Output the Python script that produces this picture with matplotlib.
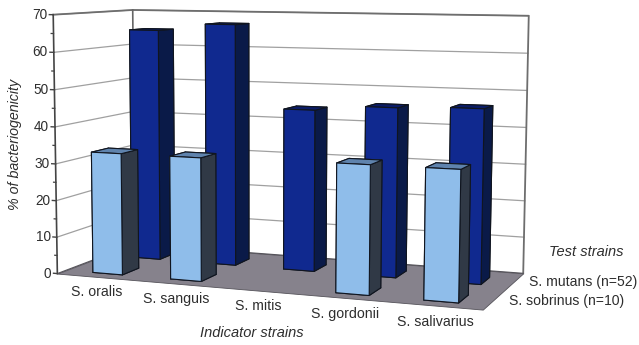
import numpy as np
import matplotlib
matplotlib.use('Agg')
import matplotlib.pyplot as plt
from mpl_toolkits.mplot3d import proj3d
from mpl_toolkits.mplot3d.art3d import Poly3DCollection

strains = ['S. oralis', 'S. sanguis', 'S. mitis', 'S. gordonii', 'S. salivarius']
mutans = [65, 67, 44.3, 45.8, 46.4]
sobrinus = [33, 33, 0, 33.5, 33.5]
yticks = [0, 10, 20, 30, 40, 50, 60, 70]
minor = [5, 15, 25, 35, 45, 55, 65]

plt.rcParams['font.family'] = 'Liberation Sans'
txt = '#2e2e2e'

W, H, S = 639, 345, 640
fig = plt.figure(figsize=(W/100, H/100), dpi=100)
ax = fig.add_axes([-37.41/W, ((H-S)/2+18.19)/H, S/W, S/H], projection='3d', computed_zorder=False)
ax.set_xlim(0, 5)
ax.set_ylim(0, 2)
ax.set_zlim(0, 70)
ax.view_init(6.8414, -69.2974, -0.1631)
ax.set_proj_type('persp', focal_length=0.4352)
ax.set_box_aspect((1, 0.3972, 0.5944), zoom=0.8157)
ax.set_axis_off()
ax.patch.set_alpha(0)

# floor
floor = Poly3DCollection([[(0,0,0),(5,0,0),(5,2,0),(0,2,0)]], facecolor='#86828c', edgecolor='#55535a', linewidth=0.6, zorder=1)
ax.add_collection3d(floor)

# walls
gc = '#a0a0a0'
for v in yticks[1:]:
    ax.plot([0,0,5], [0,2,2], [v,v,v], color=gc, lw=0.9, zorder=2)
ax.plot([0,0,5,5], [0,2,2,2], [70,70,70,0], color='#6e6e6e', lw=1.3, zorder=2)
ax.plot([0,0], [2,2], [0,70], color='#666666', lw=1.2, zorder=2)
ax.plot([0,0,5], [0,2,2], [0,0,0], color='#55535a', lw=0.8, zorder=2)
ax.plot([0,0], [0,0], [0,70], color='#444444', lw=1.2, zorder=5)

# ticks
for v in yticks:
    ax.plot([-0.05,0], [0,0], [v,v], color='#444444', lw=1.0, zorder=5)
for v in minor:
    ax.plot([-0.03,0], [0,0], [v,v], color='#444444', lw=0.9, zorder=5)

bw = 0.38
bd = 0.42
def bar(i, row, h, front, top, side, z):
    ax.bar3d(0.54+i*0.99-bw/2, row+0.21, 0, bw, bd, h,
             color=[front, top, front, front, side, side],
             edgecolor='#10151f', linewidth=0.8, shade=False, zorder=z)

for i, v in enumerate(mutans):
    bar(i, 1, v, '#10298f', '#0b1c66', '#0a1a48', 3+i*0.01)
for i, v in enumerate(sobrinus):
    if v > 0:
        bar(i, 0, v, '#8fbdea', '#5f83ad', '#303946', 4+i*0.01)

M = ax.get_proj()
for v in yticks:
    x2, y2, _ = proj3d.proj_transform(0, 0, v, M)
    ax.annotate(str(v), (x2, y2), xytext=(-6, 0), textcoords='offset pixels', ha='right',
                va='center', fontsize=9.8, color=txt, annotation_clip=False)

def t(px, py, s, **kw):
    fig.text(px/W, 1-py/H, s, ha='center', va='center', color=txt, **kw)

label_x = [97, 176, 258, 345, 435]
label_y = [292, 299, 306, 314, 322]
for s, px, py in zip(strains, label_x, label_y):
    t(px, py, s, fontsize=10.2)
t(252, 333, 'Indicator strains', fontsize=10.5, style='italic')
t(586, 252, 'Test strains', fontsize=10.5, style='italic')
t(583, 282, 'S. mutans (n=52)', fontsize=10.1)
t(567, 301, 'S. sobrinus (n=10)', fontsize=10.1)
t(15, 144, '% of bacteriogenicity', fontsize=10.3, style='italic', rotation=90)

fig.savefig('out.png', dpi=100)
